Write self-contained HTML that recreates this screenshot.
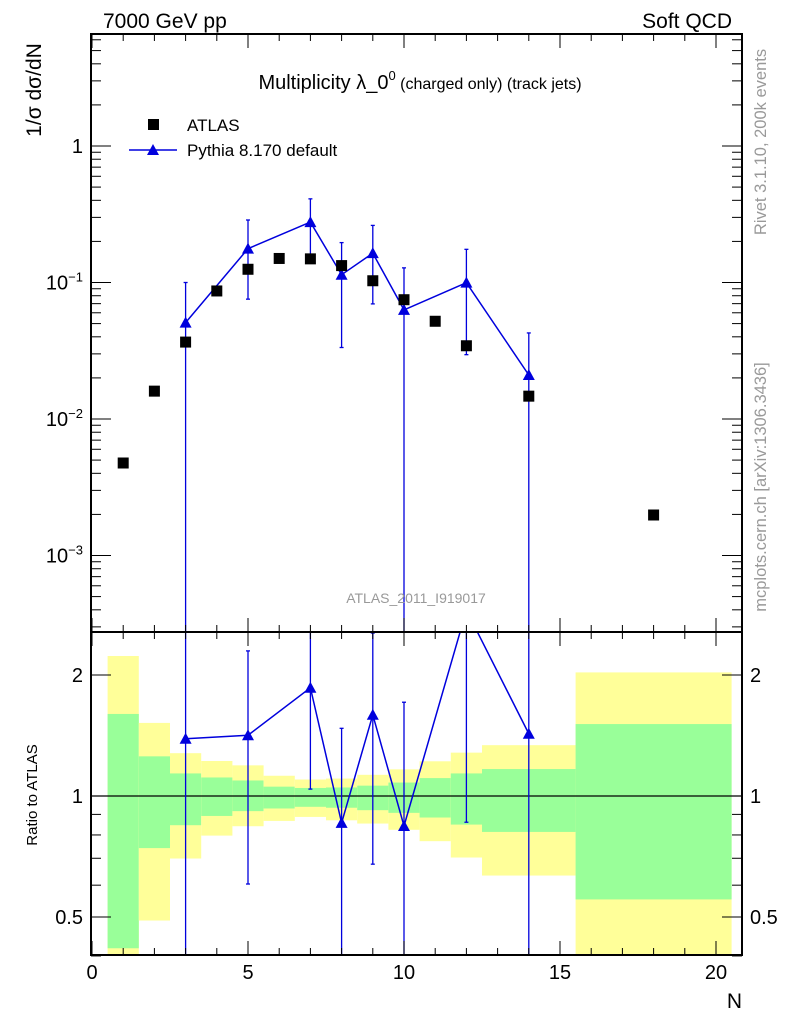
<!DOCTYPE html>
<html><head><meta charset="utf-8"><style>
html,body{margin:0;background:#fff;overflow:hidden;width:786px;height:1024px}
svg{display:block}
svg text{font-family:"Liberation Sans",sans-serif}
</style></head><body>
<svg id="c" width="786" height="1024" xmlns="http://www.w3.org/2000/svg"></svg>
<script>
const nAtlas=[1,2,3,4,5,6,7,8,9,10,11,12,14,18];
const vAtlas=[0.00476,0.016,0.0366,0.0867,0.125,0.150,0.149,0.133,0.103,0.0748,0.052,0.0344,0.0147,0.00198];
const nPy=[3,5,7,8,9,10,12,14];
const vPy=[0.0508,0.177,0.277,0.114,0.164,0.063,0.0997,0.021];
const hiPy=[0.1,0.287,0.41,0.196,0.262,0.128,0.175,0.0427];
const loPy=[0.0001,0.0755,0.155,0.0334,0.0697,0.0001,0.0296,0.0001];
const bandEdges=[0.5,1.5,2.5,3.5,4.5,5.5,6.5,7.5,8.5,9.5,10.5,11.5,12.5,15.5,20.5];
const yelHi=[2.23,1.52,1.278,1.222,1.192,1.123,1.099,1.105,1.129,1.165,1.22,1.282,1.338,2.03];
const grnHi=[1.60,1.255,1.138,1.112,1.093,1.055,1.047,1.05,1.061,1.080,1.108,1.138,1.167,1.51];
const grnLo=[0.418,0.742,0.846,0.892,0.917,0.931,0.940,0.935,0.922,0.908,0.884,0.849,0.814,0.553];
const yelLo=[0.3,0.49,0.699,0.797,0.841,0.867,0.887,0.87,0.854,0.824,0.772,0.703,0.634,0.3];
const xTicks=[0,5,10,15,20];
const yTicks=[1,0.1,0.01,0.001];
const yTickLbl=["1","10<tspan dy='-8' font-size='13'>−1</tspan>","10<tspan dy='-8' font-size='13'>−2</tspan>","10<tspan dy='-8' font-size='13'>−3</tspan>"];
const rTicks=[0.5,1,2];
const rTickLbl=["0.5","1","2"];

const L=91,R=742,T=34,M=632,B=955;
const X=n=>92+31.2*n;
const Y=v=>146-136.5*Math.log10(v);
const RY=r=>796-121*Math.log2(r);
const svg=document.getElementById('c');
const NS='http://www.w3.org/2000/svg';
function el(tag,attrs,parent){const e=document.createElementNS(NS,tag);for(const k in attrs)e.setAttribute(k,attrs[k]);(parent||svg).appendChild(e);return e;}
function txt(s,attrs){const e=el('text',attrs);e.innerHTML=s;return e;}

const defs=el('defs',{});
const c1=el('clipPath',{id:'cm'},defs);el('rect',{x:L,y:T,width:R-L,height:M-T},c1);
const c2=el('clipPath',{id:'cr'},defs);el('rect',{x:L,y:M,width:R-L,height:B-M},c2);

const gb=el('g',{'clip-path':'url(#cr)'});


for(let i=0;i<bandEdges.length-1;i++){
 const x0=X(bandEdges[i]),x1=X(bandEdges[i+1]);
 const y=el('rect',{x:x0,y:RY(yelHi[i]),width:x1-x0,height:RY(yelLo[i])-RY(yelHi[i]),fill:'#ffff99'},gb);
 
 
 const g=el('rect',{x:x0,y:RY(grnHi[i]),width:x1-x0,height:RY(grnLo[i])-RY(grnHi[i]),fill:'#99ff99'},gb);
 
 
}
el('line',{x1:L,x2:R,y1:RY(1),y2:RY(1),stroke:'#000','stroke-width':1.2});

const gm=el('g',{'clip-path':'url(#cm)'});
let pts=[];
nPy.forEach((n,i)=>{
 const x=X(n);
 const eb=el('line',{x1:x,x2:x,y1:Y(hiPy[i]),y2:Y(loPy[i]),stroke:'#0000dd','stroke-width':1.3},gm);
 
 
 [hiPy[i],loPy[i]].forEach(v=>el('line',{x1:x-2,x2:x+2,y1:Y(v),y2:Y(v),stroke:'#0000dd','stroke-width':1.3},gm));
 pts.push(x+','+Y(vPy[i]));
});
el('polyline',{points:pts.join(' '),fill:'none',stroke:'#0000dd','stroke-width':1.5},gm);
nPy.forEach((n,i)=>{const x=X(n),y=Y(vPy[i]);
 const t=el('polygon',{points:`${x-6},${y+5} ${x+6},${y+5} ${x},${y-6}`,fill:'#0000dd'},gm);
 
 
});
nAtlas.forEach((n,i)=>{
 const r=el('rect',{x:X(n)-5.5,y:Y(vAtlas[i])-5.5,width:11,height:11,fill:'#000'},gm);
 
 
});

const gr=el('g',{'clip-path':'url(#cr)'});
let rp=[];
nPy.forEach((n,i)=>{
 const a=vAtlas[nAtlas.indexOf(n)];const x=X(n);
 const rv=vPy[i]/a;
 el('line',{x1:x,x2:x,y1:RY(hiPy[i]/a),y2:RY(Math.max(loPy[i]/a,0.01)),stroke:'#0000dd','stroke-width':1.3},gr);
 [hiPy[i]/a,loPy[i]/a].forEach(v=>{if(v>0.05)el('line',{x1:x-2,x2:x+2,y1:RY(v),y2:RY(v),stroke:'#0000dd','stroke-width':1.3},gr);});
 rp.push(x+','+RY(rv));
});
el('polyline',{points:rp.join(' '),fill:'none',stroke:'#0000dd','stroke-width':1.5},gr);
nPy.forEach((n,i)=>{const a=vAtlas[nAtlas.indexOf(n)];const x=X(n),y=RY(vPy[i]/a);
 const t=el('polygon',{points:`${x-6},${y+5} ${x+6},${y+5} ${x},${y-6}`,fill:'#0000dd'},gr);
 
 
});

el('rect',{x:L,y:T,width:R-L,height:M-T,fill:'none',stroke:'#000','stroke-width':2});
el('rect',{x:L,y:M,width:R-L,height:B-M,fill:'none',stroke:'#000','stroke-width':2});

for(let n=0;n<=20;n++){
 const x=X(n),len=n%5==0?14:7;
 [[T,1],[M,-1],[M,1],[B,-1]].forEach(([y0,d])=>el('line',{x1:x,x2:x,y1:y0,y2:y0+d*len,stroke:'#000','stroke-width':1}));
}
xTicks.forEach(n=>{const t=txt(String(n),{x:X(n),y:979,'font-size':20,'text-anchor':'middle'});
 
 });
for(let d=-4;d<=1;d++)for(let m=1;m<10;m++){
 const v=m*Math.pow(10,d),y=Y(v);if(y<T||y>M)continue;
 const len=m==1?20:10;
 el('line',{x1:L,x2:L+len,y1:y,y2:y,stroke:'#000'});el('line',{x1:R,x2:R-len,y1:y,y2:y,stroke:'#000'});
}
yTicks.forEach((v,i)=>{const t=txt(yTickLbl[i],{x:83,y:Y(v)+7,'font-size':20,'text-anchor':'end'});
 
 });
[0.4,0.5,0.6,0.7,0.8,0.9,1,2].forEach(v=>{const y=RY(v);const len=(v==0.5||v==1||v==2)?20:10;
 el('line',{x1:L,x2:L+len,y1:y,y2:y,stroke:'#000'});el('line',{x1:R,x2:R-len,y1:y,y2:y,stroke:'#000'});});
rTicks.forEach((v,i)=>{
 const a=txt(rTickLbl[i],{x:83,y:RY(v)+7,'font-size':20,'text-anchor':'end'});
 
 
 const b=txt(rTickLbl[i],{x:750,y:RY(v)+7,'font-size':20});
 
 
});

svg.insertAdjacentHTML('beforeend',`
<text x="103" y="28" font-size="21">7000 GeV pp</text>
<text x="732" y="28" font-size="21" text-anchor="end">Soft QCD</text>
<text x="420" y="89" font-size="20" text-anchor="middle">Multiplicity λ_0<tspan dy="-9" font-size="13">0</tspan><tspan dy="9" font-size="16"> (charged only) (track jets)</tspan></text>
<text transform="translate(41,90) rotate(-90)" font-size="21" text-anchor="middle">1/σ dσ/dN</text>
<rect x="148" y="119" width="11" height="11" fill="#000"/>
<text x="187" y="131" font-size="17">ATLAS</text>
<line x1="129" x2="177" y1="150" y2="150" stroke="#0000dd" stroke-width="1.5"/>
<polygon points="147,155 159,155 153,144" fill="#0000dd"/>
<text x="187" y="156" font-size="17">Pythia 8.170 default</text>
<text x="416" y="603" font-size="14" fill="#999" text-anchor="middle">ATLAS_2011_I919017</text>
<text transform="translate(766,142) rotate(-90)" font-size="16.5" fill="#999" text-anchor="middle">Rivet 3.1.10,  200k events</text>
<text transform="translate(766,487) rotate(-90)" font-size="16.5" fill="#999" text-anchor="middle">mcplots.cern.ch [arXiv:1306.3436]</text>
<text transform="translate(37,795) rotate(-90)" font-size="15" text-anchor="middle">Ratio to ATLAS</text>
<text x="742" y="1008" font-size="21" text-anchor="end">N</text>
`);
</script>
</body></html>
